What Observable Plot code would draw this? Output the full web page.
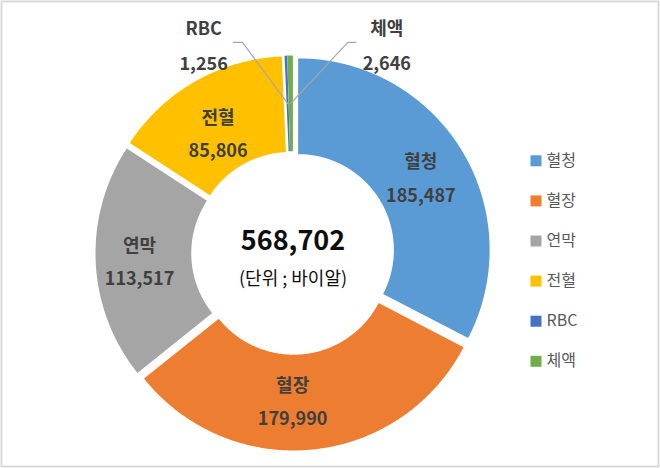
<!DOCTYPE html>
<html>
<head>
<meta charset="utf-8">
<script src="https://cdn.jsdelivr.net/npm/d3@7"></script>
<script src="https://cdn.jsdelivr.net/npm/@observablehq/plot@0.6"></script>
<style>
  html, body { margin: 0; padding: 0; background: #fff; }
  #chart { width: 660px; height: 468px; }
</style>
</head>
<body>
<div id="chart"></div>
<script>
// ---- data ----
const names = ["혈청", "혈장", "연막", "전혈", "RBC", "체액"];
const values = [185487, 179990, 113517, 85806, 1256, 2646];
const colors = ["#5B9BD5", "#ED7D31", "#A5A5A5", "#FFC000", "#4472C4", "#70AD47"];
const outsideNames = ["RBC", "체액"];
const unitLabel = "(단위 ; 바이알)";

// ---- layout ----
const W = 660, H = 468;
const cx = 292.5, cy = 252.5, R = 191.5;   // pixels
const innerRatio = 0.5;
const explode = 6 / R;
const font = "'Noto Sans CJK KR', 'Noto Sans', sans-serif";
const fmt = d3.format(",");
const toX = px => (px - cx) / R;
const toY = py => (cy - py) / R;

// small pixel nudges for inside labels (layout only)
const labelNudge = {"혈청": [0, -1], "혈장": [-15, -4], "연막": [-4, -2], "전혈": [-1, 7]};

const arcs = d3.pie().sort(null).value(d => d)(values).map((a, i) => {
  const mid = (a.startAngle + a.endAngle) / 2;
  return {name: names[i], value: values[i], a0: a.startAngle, a1: a.endAngle, mid,
          ox: explode * Math.sin(mid), oy: explode * Math.cos(mid)};
});

// slice polygons
const poly = [];
for (const s of arcs) {
  const n = Math.max(2, Math.ceil((s.a1 - s.a0) / (Math.PI / 360)));
  for (let k = 0; k <= n; k++) {
    const a = s.a0 + (s.a1 - s.a0) * k / n;
    poly.push({name: s.name, x: Math.sin(a) + s.ox, y: Math.cos(a) + s.oy});
  }
  for (let k = n; k >= 0; k--) {
    const a = s.a0 + (s.a1 - s.a0) * k / n;
    poly.push({name: s.name, x: innerRatio * Math.sin(a) + s.ox, y: innerRatio * Math.cos(a) + s.oy});
  }
}

const midR = (1 + innerRatio) / 2;
const anchors = arcs.map(s => ({...s,
  x: midR * Math.sin(s.mid) + s.ox, y: midR * Math.cos(s.mid) + s.oy}));
const inside = anchors.filter(d => !outsideNames.includes(d.name)).map(d => {
  const n = labelNudge[d.name] || [0, 0];
  return {...d, tx: d.x + n[0] / R, ty: d.y - n[1] / R};
});
const outside = anchors.filter(d => outsideNames.includes(d.name));

// leader line geometry (pixel offsets from anchor)
const leaderSpec = {
  "RBC":  {elbow: [-45, -61], end: [-54, -61], text: [-84, -62]},
  "체액": {elbow: [57, -61],  end: [65, -61],  text: [96, -62]}
};
const leaders = [];
for (const d of outside) {
  const s = leaderSpec[d.name];
  leaders.push({name: d.name, x: d.x, y: d.y});
  leaders.push({name: d.name, x: d.x + s.elbow[0] / R, y: d.y - s.elbow[1] / R});
  leaders.push({name: d.name, x: d.x + s.end[0] / R, y: d.y - s.end[1] / R});
}
const outsideText = outside.map(d => {
  const s = leaderSpec[d.name];
  return {...d, tx: d.x + s.text[0] / R, ty: d.y - s.text[1] / R};
});

const total = d3.sum(values);

// legend
const legend = names.map((n, i) => ({name: n, x: toX(535.5), y: toY(160.3 + i * 40.1)}));

const chart = Plot.plot({
  width: W, height: H,
  margin: 0,
  style: {fontFamily: font, background: "#fff", overflow: "visible"},
  x: {domain: [-1, 1], range: [cx - R, cx + R], axis: null},
  y: {domain: [-1, 1], range: [cy + R, cy - R], axis: null},
  color: {domain: names, range: colors},
  marks: [
    Plot.frame({stroke: "#d9d9d9", strokeWidth: 2, insetTop: 1, insetLeft: 1, insetRight: 2, insetBottom: 2}),
    Plot.line(poly, {x: "x", y: "y", z: "name", fill: "name", stroke: null, curve: "linear"}),
    Plot.line(leaders, {x: "x", y: "y", z: "name", stroke: "#A6A6A6", strokeWidth: 1.2, curve: "linear"}),
    Plot.text(inside, {x: "tx", y: "ty", text: d => d.name + "\n" + fmt(d.value),
      fill: "#404040", fontSize: 18, fontWeight: "bold", lineHeight: 1.85}),
    Plot.text(outsideText, {x: "tx", y: "ty", text: d => d.name + "\n" + fmt(d.value),
      fill: "#404040", fontSize: 18, fontWeight: "bold", lineHeight: 1.95}),
    Plot.text([total], {x: 0, y: 0, dy: -12, text: d => fmt(d),
      fill: "#0d0d0d", fontSize: 27, fontWeight: "bold"}),
    Plot.text([unitLabel], {x: 0, y: 0, dy: 26, text: d => d,
      fill: "#0d0d0d", fontSize: 18}),
    Plot.dot(legend, {x: "x", y: "y", fill: "name", symbol: "square", r: 6.2, stroke: null}),
    Plot.text(legend, {x: "x", y: "y", dx: 10.5, text: "name", textAnchor: "start",
      fill: "#595959", fontSize: 16})
  ]
});
document.getElementById("chart").appendChild(chart);
</script>
</body>
</html>
